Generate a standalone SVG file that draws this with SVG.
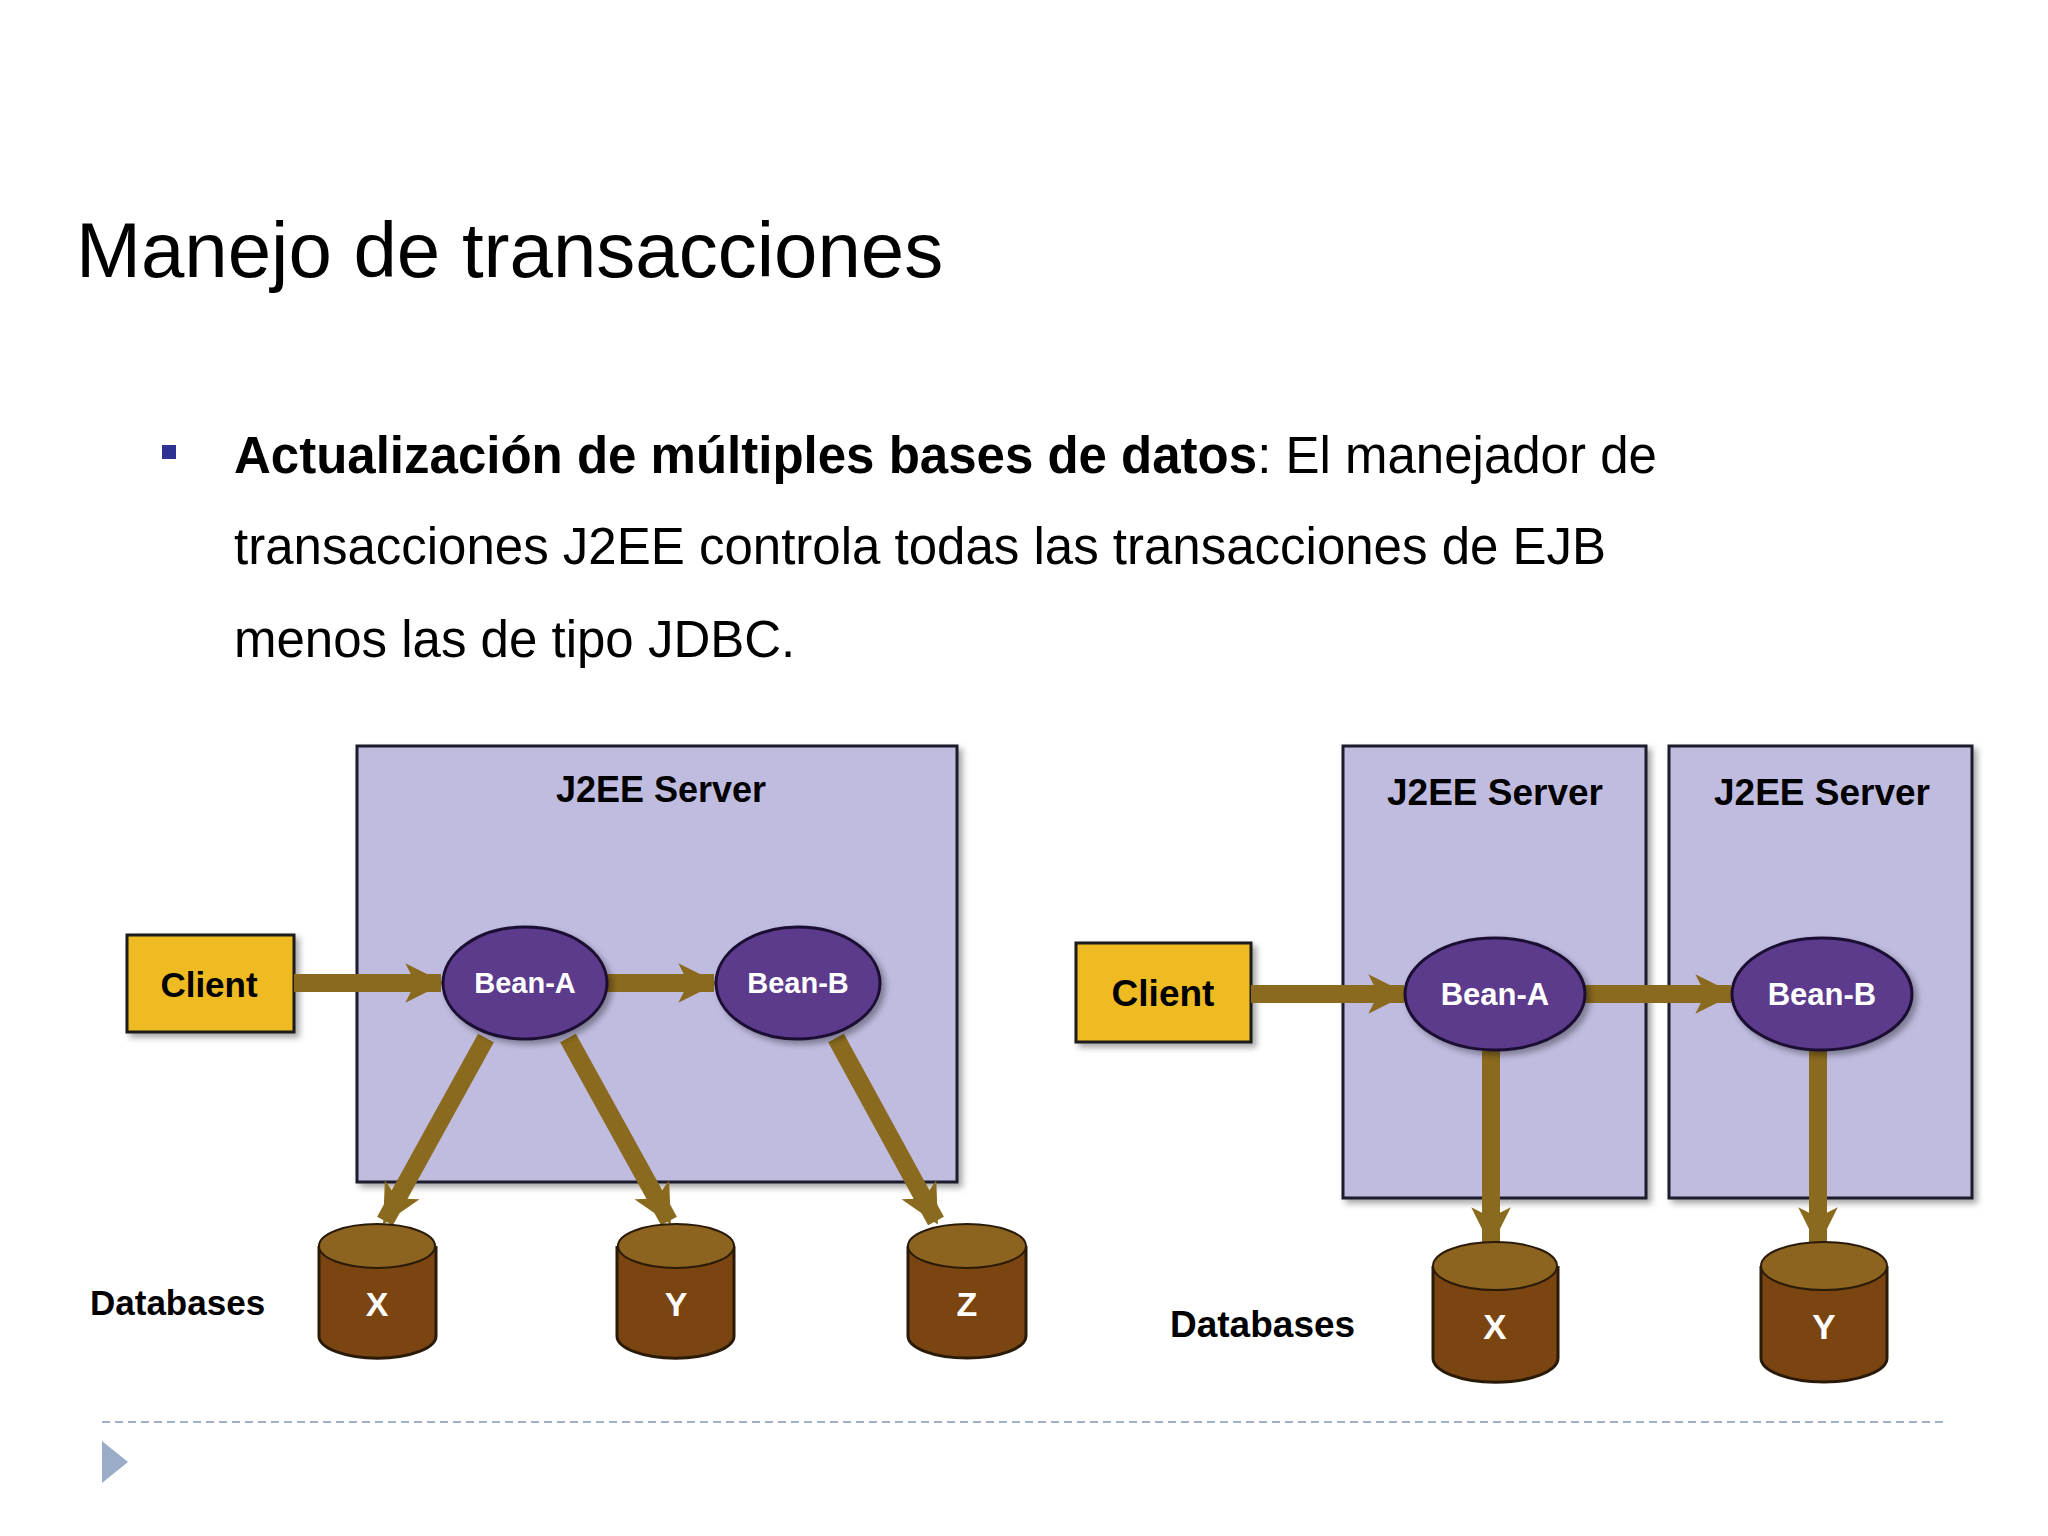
<svg xmlns="http://www.w3.org/2000/svg" width="2048" height="1536" viewBox="0 0 2048 1536">
<defs>
<marker id="ah" viewBox="0 0 10 10" refX="9" refY="5" markerWidth="2.2" markerHeight="2.6" orient="auto" markerUnits="strokeWidth">
<path d="M0,0 L10,5 L0,10 L2.5,5 Z" fill="#8a6a1e"/>
</marker>
<filter id="sh" x="-10%" y="-10%" width="130%" height="130%">
<feDropShadow dx="4" dy="4" stdDeviation="3" flood-color="#000" flood-opacity="0.35"/>
</filter>
</defs>
<style>
.t{font-family:"Liberation Sans",Arial,sans-serif;fill:#000}
.b{font-weight:bold}
.srv{fill:#c0bce0;stroke:#1a1a2a;stroke-width:3;filter:url(#sh)}
.cli{fill:#eebb22;stroke:#1a1a1a;stroke-width:3;filter:url(#sh)}
.bean{fill:#5b3a8c;stroke:#1a1030;stroke-width:3;filter:url(#sh)}
.bt{font-family:"Liberation Sans",Arial,sans-serif;font-weight:bold;fill:#fff;text-anchor:middle}
.arr{stroke:#8a6a1e;stroke-width:18;fill:none;marker-end:url(#ah)}
.cyl{fill:#7a4510;stroke:#2a1a08;stroke-width:3}
.cyt{fill:#8c6420;stroke:#2a1a08;stroke-width:2}
</style>
<rect width="2048" height="1536" fill="#fff"/>
<text class="t" x="76" y="277" font-size="78">Manejo de transacciones</text>
<rect x="162" y="445" width="14" height="14" fill="#2e3192"/>
<text class="t" x="234" y="473" font-size="51"><tspan class="b">Actualización de múltiples bases de datos</tspan>: El manejador de</text>
<text class="t" x="234" y="564" font-size="51">transacciones J2EE controla todas las transacciones de EJB</text>
<text class="t" x="234" y="657" font-size="51">menos las de tipo JDBC.</text>

<g id="left-server"><rect class="srv" x="357" y="746" width="600" height="436"/>
<text class="t b" x="661" y="802" font-size="36" text-anchor="middle">J2EE Server</text></g>
<g id="left-client"><rect class="cli" x="127" y="935" width="167" height="97"/>
<text class="t b" x="209" y="997" font-size="35" text-anchor="middle">Client</text></g>
<g id="right-server1"><rect class="srv" x="1343" y="746" width="303" height="452"/>
<text class="t b" x="1495" y="805" font-size="37" text-anchor="middle">J2EE Server</text></g>
<g id="right-server2"><rect class="srv" x="1669" y="746" width="303" height="452"/>
<text class="t b" x="1822" y="805" font-size="37" text-anchor="middle">J2EE Server</text></g>
<g id="right-client"><rect class="cli" x="1076" y="943" width="175" height="99"/>
<text class="t b" x="1163" y="1006" font-size="37" text-anchor="middle">Client</text></g>

<g id="connectors">
<line class="arr" x1="294" y1="983" x2="441" y2="983"/>
<line class="arr" x1="607" y1="983" x2="714" y2="983"/>
<line class="arr" x1="486" y1="1038" x2="385" y2="1221"/>
<line class="arr" x1="568" y1="1038" x2="669" y2="1221"/>
<line class="arr" x1="836" y1="1038" x2="936" y2="1221"/>
<line class="arr" x1="1251" y1="994" x2="1404" y2="994"/>
<line class="arr" x1="1585" y1="994" x2="1731" y2="994"/>
<line class="arr" x1="1491" y1="1051" x2="1491" y2="1243"/>
<line class="arr" x1="1818" y1="1051" x2="1818" y2="1243"/>
</g>

<g id="left-beanA"><ellipse class="bean" cx="525" cy="983" rx="82" ry="56"/><text class="bt" x="525" y="993" font-size="29">Bean-A</text></g>
<g id="left-beanB"><ellipse class="bean" cx="798" cy="983" rx="82" ry="56"/><text class="bt" x="798" y="993" font-size="29">Bean-B</text></g>
<g id="right-beanA"><ellipse class="bean" cx="1495" cy="994" rx="90" ry="56"/><text class="bt" x="1495" y="1005" font-size="31">Bean-A</text></g>
<g id="right-beanB"><ellipse class="bean" cx="1822" cy="994" rx="90" ry="56"/><text class="bt" x="1822" y="1005" font-size="31">Bean-B</text></g>

<text class="t b" x="90" y="1315" font-size="35">Databases</text>
<g id="left-dbX"><path class="cyl" d="M319,1246 V1336 A58,22 0 0 0 436,1336 V1246"/><ellipse class="cyt" cx="377" cy="1246" rx="58" ry="22"/><text class="bt" x="377" y="1316" font-size="34">X</text></g>
<g id="left-dbY"><path class="cyl" d="M617,1246 V1336 A58,22 0 0 0 734,1336 V1246"/><ellipse class="cyt" cx="676" cy="1246" rx="58" ry="22"/><text class="bt" x="676" y="1316" font-size="34">Y</text></g>
<g id="left-dbZ"><path class="cyl" d="M908,1246 V1336 A59,22 0 0 0 1026,1336 V1246"/><ellipse class="cyt" cx="967" cy="1246" rx="59" ry="22"/><text class="bt" x="967" y="1316" font-size="34">Z</text></g>

<text class="t b" x="1170" y="1337" font-size="37">Databases</text>
<g id="right-dbX"><path class="cyl" d="M1433,1266 V1358 A62,24 0 0 0 1558,1358 V1266"/><ellipse class="cyt" cx="1495" cy="1266" rx="62" ry="24"/><text class="bt" x="1495" y="1339" font-size="35">X</text></g>
<g id="right-dbY"><path class="cyl" d="M1761,1266 V1358 A63,24 0 0 0 1887,1358 V1266"/><ellipse class="cyt" cx="1824" cy="1266" rx="63" ry="24"/><text class="bt" x="1824" y="1339" font-size="35">Y</text></g>

<line x1="102" y1="1422" x2="1946" y2="1422" stroke="#a0b0c8" stroke-width="2" stroke-dasharray="8,5"/>
<polygon points="102,1441 128,1462 102,1483" fill="#9aacc8"/>
</svg>
